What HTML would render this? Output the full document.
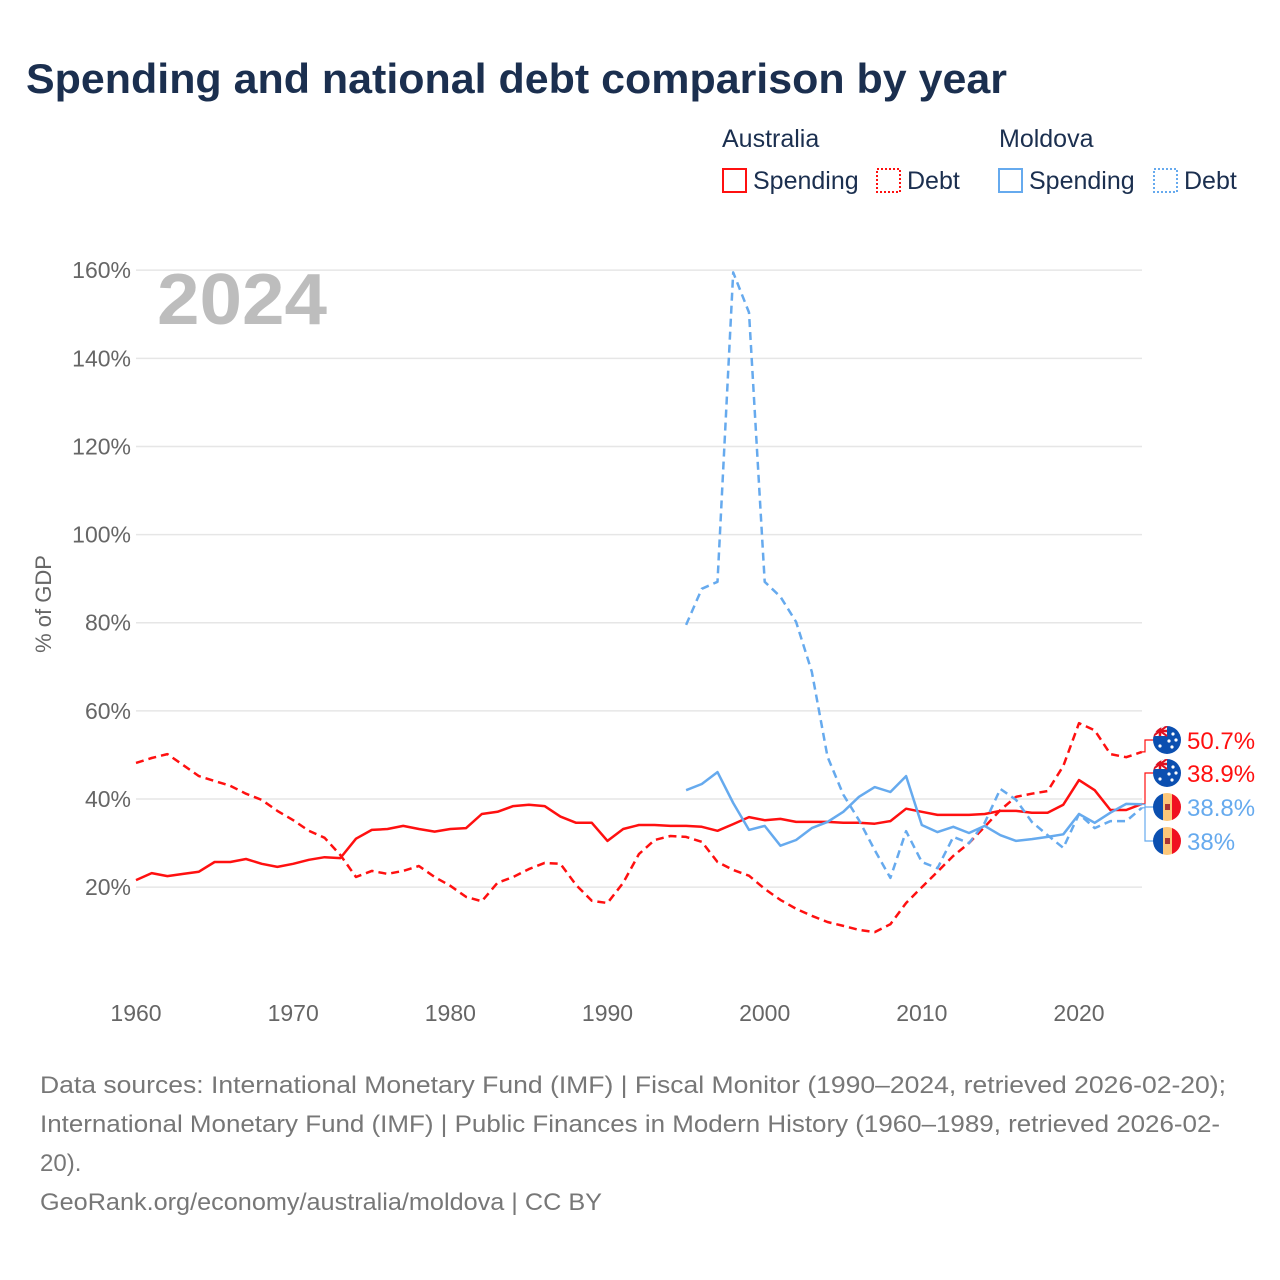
<!DOCTYPE html>
<html><head><meta charset="utf-8"><style>
body{margin:0;background:#fff;font-family:"Liberation Sans",sans-serif;}
#wrap{position:relative;width:1280px;height:1280px;overflow:hidden;}
</style></head><body>
<div id="wrap">
<svg id="chart" width="1280" height="1280">
<defs>
<clipPath id="c1"><circle cx="0" cy="0" r="14"/></clipPath>
</defs>
<text x="26" y="93" font-size="42" font-weight="bold" fill="#1b2f4f" textLength="981" lengthAdjust="spacingAndGlyphs">Spending and national debt comparison by year</text>
<g font-size="25" fill="#1b2f4f">
<text x="722" y="147">Australia</text>
<text x="999" y="147">Moldova</text>
<g><rect x="723" y="169" width="23" height="23" fill="none" stroke="#ff1010" stroke-width="2"/><text x="753" y="189">Spending</text></g>
<g><rect x="877" y="169" width="23" height="23" fill="none" stroke="#ff1010" stroke-width="2" stroke-dasharray="2,2"/><text x="907" y="189">Debt</text></g>
<g><rect x="999" y="169" width="23" height="23" fill="none" stroke="#66aaee" stroke-width="2"/><text x="1029" y="189">Spending</text></g>
<g><rect x="1154" y="169" width="23" height="23" fill="none" stroke="#66aaee" stroke-width="2" stroke-dasharray="2,2"/><text x="1184" y="189">Debt</text></g>
</g>
<g id="grid"></g>
<text x="157" y="324" font-size="72" font-weight="bold" fill="#bdbdbd" textLength="170" lengthAdjust="spacingAndGlyphs">2024</text>
<text transform="translate(51,604) rotate(-90)" text-anchor="middle" font-size="22" fill="#666">% of GDP</text>
<g id="series"></g>
<g id="labels"></g>
<g font-size="24" fill="#777">
<text x="40" y="1093" textLength="1186" lengthAdjust="spacingAndGlyphs">Data sources: International Monetary Fund (IMF) | Fiscal Monitor (1990–2024, retrieved 2026-02-20);</text>
<text x="40" y="1132" textLength="1180" lengthAdjust="spacingAndGlyphs">International Monetary Fund (IMF) | Public Finances in Modern History (1960–1989, retrieved 2026-02-</text>
<text x="40" y="1171">20).</text>
<text x="40" y="1210" textLength="562" lengthAdjust="spacingAndGlyphs">GeoRank.org/economy/australia/moldova | CC BY</text>
</g>
</svg>
</div>
<script>
const yTicks=[20,40,60,80,100,120,140,160];
const xTicks=[1960,1970,1980,1990,2000,2010,2020];
const ausYears0=1960;
const ausSpending=[21.6,23.2,22.5,23,23.5,25.7,25.7,26.4,25.3,24.6,25.3,26.2,26.8,26.6,31,33,33.2,33.9,33.2,32.6,33.2,33.4,36.6,37.1,38.4,38.7,38.4,36,34.6,34.6,30.5,33.2,34.1,34.1,33.9,33.9,33.7,32.8,34.3,35.9,35.2,35.5,34.8,34.8,34.8,34.6,34.6,34.4,35,37.8,37.1,36.4,36.4,36.4,36.6,37.3,37.3,36.9,36.9,38.7,44.3,42,37.5,37.5,38.9];
const ausDebt=[48.2,49.3,50.2,47.7,45.2,44.1,43,41.2,39.8,37.3,35.2,32.8,31.2,27.3,22.3,23.7,23,23.7,24.8,22.3,20.3,17.8,16.8,21,22.3,24.1,25.5,25.3,20.5,16.9,16.4,21,27.5,30.7,31.6,31.4,30.3,25.7,23.9,22.6,19.6,17.1,15.1,13.5,12.1,11.2,10.3,9.8,11.6,16.4,20,23.5,27.1,30,33.7,37.5,40.5,41.2,41.8,47.5,57.2,55.6,50.2,49.5,50.7];
const mdaYears0=1995;
const mdaSpending=[42,43.4,46.1,39.1,33,33.9,29.4,30.7,33.4,34.8,37.1,40.5,42.7,41.6,45.2,34.1,32.5,33.7,32.3,33.9,31.8,30.5,30.9,31.4,32,36.6,34.6,36.9,38.9,38.8];
const mdaDebt=[79.5,87.7,89.3,159.5,150.4,89.3,85.9,80.2,68.9,49.6,41,35.2,28.4,22.1,32.7,25.7,24.3,31.4,30,34.6,42.3,39.8,34.8,31.8,28.9,36.6,33.4,35,35,38];
const endLabels=["50.7%","38.9%","38.8%","38%"];

const X=yr=>136+(yr-1960)*(943/60);
const Y=v=>975.3-v*(88.14/20);
const NS="http://www.w3.org/2000/svg";
const mk=(t,a,p)=>{const e=document.createElementNS(NS,t);for(const k in a)e.setAttribute(k,a[k]);p.appendChild(e);return e;};
const grid=document.getElementById('grid');
yTicks.forEach(v=>{
  const l=mk('line',{x1:136,x2:1142,y1:Y(v),y2:Y(v),stroke:'#e6e6e6','stroke-width':1.5},grid);
  
  
  const t=mk('text',{x:131,y:Y(v)+8,'text-anchor':'end','font-size':23,fill:'#666'},grid);
  t.textContent=v+'%';
  
  
});
xTicks.forEach(yr=>{
  const t=mk('text',{x:X(yr),y:1021,'text-anchor':'middle','font-size':23,fill:'#666'},grid);
  t.textContent=yr;
  
  
});
const series=document.getElementById('series');
function line(arr,y0,color,dash,name){
  const d=arr.map((v,i)=>(i?'L':'M')+X(y0+i).toFixed(1)+','+Y(v).toFixed(1)).join('');
  const p=mk('path',{d:d,fill:'none',stroke:color,'stroke-width':2.5,'stroke-linejoin':'round'},series);
  if(dash)p.setAttribute('stroke-dasharray','8,5');
  
  
}
line(ausDebt,ausYears0,'#ff1010',true,'australia-debt-line');
line(ausSpending,ausYears0,'#ff1010',false,'australia-spending-line');
line(mdaDebt,mdaYears0,'#66aaee',true,'moldova-debt-line');
line(mdaSpending,mdaYears0,'#66aaee',false,'moldova-spending-line');

const labels=document.getElementById('labels');
const lastVals=[ausDebt[ausDebt.length-1],ausSpending[ausSpending.length-1],mdaSpending[mdaSpending.length-1],mdaDebt[mdaDebt.length-1]];
const colors=['#ff1010','#ff1010','#66aaee','#66aaee'];
const ly=[740,773,807,841];
const flags=['au','au','md','md'];
lastVals.forEach((v,i)=>{
  const g=mk('g',{},labels);
  
  
  const yv=Y(v);
  mk('path',{d:`M1142,${yv.toFixed(1)} H1145 V${ly[i]} H1153`,fill:'none',stroke:colors[i],'stroke-width':1.2},g);
  const f=mk('g',{transform:`translate(1167,${ly[i]})`,'clip-path':'url(#c1)'},g);
  if(flags[i]==='au'){
    mk('rect',{x:-14,y:-14,width:28,height:28,fill:'#0b4fb0'},f);
    mk('rect',{x:-14,y:-14,width:14,height:10,fill:'#fff'},f);
    mk('path',{d:'M-14,-14L0,-4M0,-14L-14,-4',stroke:'#e01020','stroke-width':2},f);
    mk('path',{d:'M-7,-14V-4M-14,-9H0',stroke:'#e01020','stroke-width':2.5},f);
    [[-7,6],[6,-6],[9,0],[5,7],[2,1]].forEach(s=>mk('circle',{cx:s[0],cy:s[1],r:1.6,fill:'#fff'},f));
  }else{
    mk('rect',{x:-14,y:-14,width:10,height:28,fill:'#0b4fb0'},f);
    mk('rect',{x:-4,y:-14,width:9,height:28,fill:'#fcc77a'},f);
    mk('rect',{x:5,y:-14,width:9,height:28,fill:'#f01020'},f);
    mk('rect',{x:-2,y:-3,width:5,height:6,fill:'#a33'},f);
  }
  const t=mk('text',{x:1187,y:ly[i]+9,'font-size':24,fill:colors[i]},g);
  t.textContent=endLabels[i];
});
</script>
</body></html>
